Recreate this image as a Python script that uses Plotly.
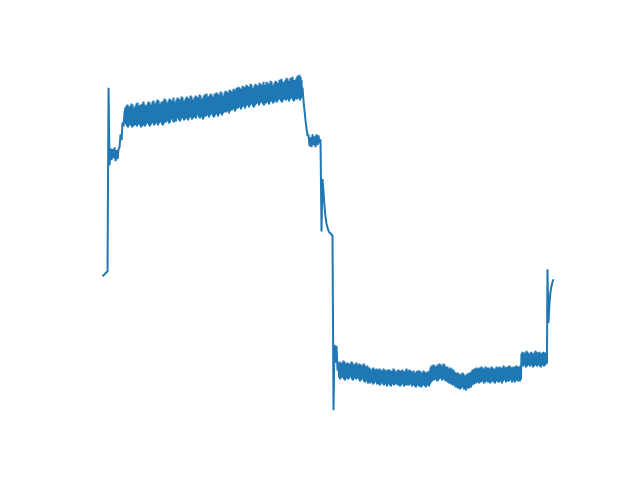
import plotly.graph_objects as go

# ---- Signal samples, grouped by phase ----
lead_in = [205, 206, 207, 208, 209, 210]
first_spike = [395]
low_plateau = [317, 334, 322, 333, 324, 335, 321, 332, 323, 333]
rise = [335, 348, 342, 360, 356, 370]

# dense noisy high band: upper and lower edge of the band, one pair per sample
high_top = [
    375, 377, 378, 376, 373, 377, 379, 378, 375, 374,
    377, 379, 380, 377, 375, 378, 376, 379, 381, 378,
    377, 376, 379, 381, 380, 377, 378, 381, 382, 379,
    378, 381, 383, 382, 379, 378, 381, 379, 382, 384,
    383, 380, 379, 382, 384, 383, 380, 382, 385, 381,
    380, 383, 385, 384, 381, 383, 386, 385, 382, 381,
    384, 386, 385, 382, 384, 387, 386, 383, 382, 385,
    387, 386, 383, 385, 388, 387, 384, 383, 386, 388,
    387, 389, 386, 384, 387, 389, 388, 385, 386, 389,
    388, 390, 389, 386, 388, 391, 390, 387, 386, 390,
    392, 391, 388, 390, 393, 392, 389, 391, 394, 393,
    393, 395, 394, 396, 395, 392, 394, 397, 396, 393,
    396, 398, 397, 394, 396, 399, 398, 395, 394, 397,
    399, 398, 395, 397, 400, 399, 396, 398, 401, 397,
    398, 401, 400, 397, 399, 402, 401, 398, 397, 400,
    402, 401, 398, 400, 403, 402, 404, 401, 399, 401,
    403, 405, 404, 401, 402, 405, 404, 406, 403, 401,
    403, 405, 407, 406, 408, 406, 403,
]
high_bottom = [
    358, 356, 355, 357, 360, 357, 355, 356, 359, 357,
    357, 356, 358, 360, 357, 355, 356, 359, 357, 356,
    358, 361, 359, 357, 356, 358, 361, 359, 357, 358,
    360, 359, 357, 359, 362, 360, 358, 357, 359, 362,
    360, 363, 361, 359, 360, 363, 364, 361, 360, 362,
    361, 364, 365, 362, 361, 363, 366, 364, 362, 363,
    365, 364, 362, 364, 367, 365, 363, 364, 367, 365,
    364, 367, 368, 365, 364, 366, 365, 363, 365, 368,
    366, 369, 367, 365, 367, 370, 368, 366, 365, 367,
    369, 368, 366, 368, 371, 369, 367, 369, 372, 370,
    370, 373, 371, 369, 371, 374, 372, 375, 373, 371,
    373, 376, 374, 377, 375, 373, 375, 378, 376, 374,
    376, 379, 377, 375, 377, 380, 378, 376, 375, 377,
    378, 381, 379, 377, 379, 382, 380, 378, 377, 379,
    379, 382, 380, 378, 380, 383, 381, 379, 380, 383,
    381, 380, 382, 385, 383, 381, 380, 382, 385, 383,
    382, 385, 383, 381, 383, 386, 384, 382, 381, 383,
    384, 383, 386, 384, 382, 384, 387,
]
fall = [395, 382, 372, 362, 354, 347]
mid_plateau = [347, 336, 345, 335, 348, 337, 346, 335, 348, 337, 347, 339, 343]
drop_decay = [250, 303, 290, 275, 265, 258, 254, 251, 249, 248, 247, 246]
undershoot = [70, 136, 118, 135, 110]

low_top = [
    117, 119, 118, 116, 118, 120, 119, 117, 116, 118,
    117, 115, 117, 119, 118, 116, 115, 117, 118, 116,
    115, 117, 116, 114, 115, 117, 116, 114, 113, 115,
    112, 113, 111, 110, 112, 113, 111, 110, 112, 111,
    110, 112, 111, 109, 110, 112, 111, 109, 110, 111,
    109, 111, 110, 108, 110, 112, 111, 109, 108, 110,
    111, 110, 108, 110, 111, 109, 108, 110, 112, 110,
    109, 111, 110, 108, 109, 110, 108, 107, 109, 110,
    108, 110, 109, 107, 108, 110, 109, 107, 108, 109,
    108, 110, 113, 115, 114, 116, 115, 113, 114, 116,
    115, 117, 116, 114, 115, 117, 116, 114, 113, 114,
    112, 111, 113, 112, 110, 111, 109, 108, 107, 108,
    106, 107, 105, 106, 108, 107, 105, 104, 106, 107,
    106, 108, 107, 109, 111, 110, 112, 111, 113, 112,
    111, 113, 112, 114, 113, 111, 112, 114, 113, 112,
    113, 111, 112, 114, 113, 112, 110, 112, 114, 113,
    112, 114, 113, 111, 113, 115, 114, 112, 113, 114,
    113, 115, 114, 112, 113, 114, 112, 114, 115, 113,
    114, 113, 115,
]
low_bottom = [
    103, 101, 102, 104, 103, 101, 100, 102, 103, 101,
    102, 104, 103, 101, 100, 102, 103, 101, 102, 103,
    101, 99, 100, 102, 101, 99, 98, 100, 99, 97,
    98, 97, 99, 98, 96, 97, 99, 98, 96, 97,
    96, 95, 97, 98, 96, 95, 97, 96, 94, 96,
    97, 95, 94, 96, 97, 95, 96, 98, 96, 95,
    96, 94, 95, 97, 96, 94, 95, 97, 95, 96,
    95, 97, 96, 94, 95, 96, 94, 93, 95, 96,
    94, 95, 93, 94, 96, 95, 94, 93, 95, 96,
    94, 96, 98, 99, 101, 100, 102, 101, 99, 100,
    101, 103, 102, 100, 101, 102, 100, 99, 100, 98,
    97, 98, 96, 97, 95, 96, 94, 93, 94, 92,
    93, 91, 92, 94, 93, 91, 92, 90, 92, 93,
    92, 94, 93, 95, 97, 96, 98, 97, 99, 98,
    97, 99, 98, 100, 99, 97, 98, 100, 99, 98,
    99, 97, 98, 100, 99, 98, 97, 99, 100, 98,
    98, 100, 99, 97, 99, 101, 100, 98, 99, 100,
    99, 101, 100, 98, 99, 100, 98, 100, 101, 99,
    100, 99, 101,
]
step_top = [
    127, 129, 128, 126, 128, 130, 129, 127, 126, 128, 129, 127, 126,
    128, 130, 129, 127, 128, 129, 127, 126, 128, 129, 127, 128, 126,
]
step_bottom = [
    115, 114, 116, 115, 113, 114, 116, 115, 114, 116, 115, 113, 114,
    116, 115, 114, 115, 116, 114, 113, 115, 116, 114, 115, 116, 117,
]
tail = [212, 158, 178, 189, 195, 199, 202]

# ---- assemble the sample sequence (one sample step per unit of time) ----
xs, ys = [], []
pos = 0.0


def add_samples(vals):
    global pos
    for v in vals:
        xs.append(pos)
        ys.append(v)
        pos += 1


def add_band(top, bottom):
    global pos
    for t, b in zip(top, bottom):
        xs.extend([pos, pos + 0.5])
        ys.extend([t, b])
        pos += 1


add_samples(lead_in)
add_samples(first_spike)
add_samples(low_plateau)
add_samples(rise)
add_band(high_top, high_bottom)
add_samples(fall)
add_samples(mid_plateau)
add_samples(drop_decay)
add_samples(undershoot)
add_band(low_top, low_bottom)
add_band(step_top, step_bottom)
add_samples(tail)

fig = go.Figure(go.Scatter(x=xs, y=ys, mode="lines",
                           line=dict(color="#1f77b4", width=2, simplify=False)))

xpad = 0.05 * (max(xs) - min(xs))
ypad = 0.05 * (max(ys) - min(ys))
fig.update_layout(
    width=640, height=480,
    margin=dict(l=80, r=64, t=58, b=53),
    paper_bgcolor="white", plot_bgcolor="white",
    showlegend=False,
    xaxis=dict(visible=False, range=[min(xs) - xpad, max(xs) + xpad]),
    yaxis=dict(visible=False, range=[min(ys) - ypad, max(ys) + ypad]),
)
fig.write_html("out.html")
